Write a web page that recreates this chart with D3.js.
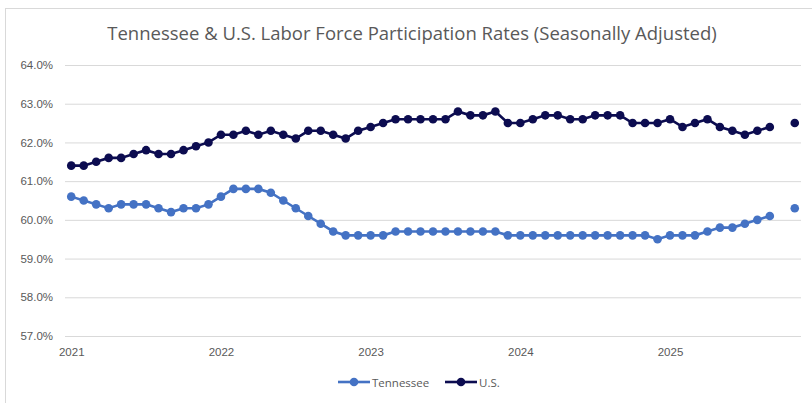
<!DOCTYPE html>
<html>
<head>
<meta charset="utf-8">
<script src="https://cdn.jsdelivr.net/npm/d3@7"></script>
<style>
  body { margin: 0; background: #fff; }
  svg { display: block; font-family: "Open Sans", sans-serif; }
</style>
</head>
<body>
<div id="chart"></div>
<script>
// monthly, Jan 2021 .. Nov 2025 (Oct 2025 not published)
var months = d3.timeMonth.range(new Date(2021, 0, 1), new Date(2025, 11, 1));

var tennessee = [
  60.6, 60.5, 60.4, 60.3, 60.4, 60.4, 60.4, 60.3, 60.2, 60.3, 60.3, 60.4,
  60.6, 60.8, 60.8, 60.8, 60.7, 60.5, 60.3, 60.1, 59.9, 59.7, 59.6, 59.6,
  59.6, 59.6, 59.7, 59.7, 59.7, 59.7, 59.7, 59.7, 59.7, 59.7, 59.7, 59.6,
  59.6, 59.6, 59.6, 59.6, 59.6, 59.6, 59.6, 59.6, 59.6, 59.6, 59.6, 59.5,
  59.6, 59.6, 59.6, 59.7, 59.8, 59.8, 59.9, 60.0, 60.1, null, 60.3
];

var us = [
  61.4, 61.4, 61.5, 61.6, 61.6, 61.7, 61.8, 61.7, 61.7, 61.8, 61.9, 62.0,
  62.2, 62.2, 62.3, 62.2, 62.3, 62.2, 62.1, 62.3, 62.3, 62.2, 62.1, 62.3,
  62.4, 62.5, 62.6, 62.6, 62.6, 62.6, 62.6, 62.8, 62.7, 62.7, 62.8, 62.5,
  62.5, 62.6, 62.7, 62.7, 62.6, 62.6, 62.7, 62.7, 62.7, 62.5, 62.5, 62.5,
  62.6, 62.4, 62.5, 62.6, 62.4, 62.3, 62.2, 62.3, 62.4, null, 62.5
];

var yTicks = [57, 58, 59, 60, 61, 62, 63, 64];
var yearTicks = ["2021", "2022", "2023", "2024", "2025"];

var series = [
  {name: "Tennessee", values: tennessee, color: "#4472c4"},
  {name: "U.S.", values: us, color: "#0c0c50"}
];

var width = 812, height = 403;
var margin = {top: 65, right: 11, bottom: 67, left: 65};

var svg = d3.select("#chart").append("svg")
    .attr("width", width)
    .attr("height", height);

// chart area border
svg.append("rect")
    .attr("x", 5.5).attr("y", 8.5)
    .attr("width", 830).attr("height", 420)
    .attr("fill", "none")
    .attr("stroke", "#d9d9d9");

svg.append("text")
    .attr("x", 412).attr("y", 40)
    .attr("text-anchor", "middle")
    .attr("fill", "#595959")
    .style("font-size", "18.5px")
    .text("Tennessee & U.S. Labor Force Participation Rates (Seasonally Adjusted)");

var fmt = d3.timeFormat("%Y-%m");
var x = d3.scalePoint()
    .domain(months.map(fmt))
    .range([margin.left, width - margin.right])
    .padding(0.5);

var y = d3.scaleLinear()
    .domain([57, 64])
    .range([height - margin.bottom, margin.top]);

// gridlines + y labels
var yAxis = d3.axisLeft(y)
    .tickValues(yTicks)
    .tickSize(-(width - margin.left - margin.right))
    .tickPadding(12)
    .tickFormat(function(d){ return d3.format(".1f")(d) + "%"; });

svg.append("g")
    .attr("transform", "translate(" + margin.left + ",0)")
    .call(yAxis)
    .call(function(g){
        g.select(".domain").remove();
        g.selectAll(".tick line").attr("stroke", "#d9d9d9");
        g.selectAll(".tick text").attr("fill", "#595959").style("font-size", "11.5px");
    });

// x labels at each January
var xAxis = d3.axisBottom(x)
    .tickValues(yearTicks.map(function(d){ return d + "-01"; }))
    .tickSize(0)
    .tickPadding(12)
    .tickFormat(function(d){ return d.slice(0, 4); });

svg.append("g")
    .attr("transform", "translate(0," + (height - margin.bottom) + ")")
    .call(xAxis)
    .call(function(g){
        g.select(".domain").remove();
        g.selectAll(".tick text").attr("fill", "#595959").style("font-size", "11.5px");
    });

var line = d3.line()
    .defined(function(d){ return d.v != null; })
    .x(function(d){ return x(d.m); })
    .y(function(d){ return y(d.v); });

series.forEach(function(s){
    var pts = months.map(function(m, i){ return {m: fmt(m), v: s.values[i]}; });
    svg.append("path")
        .datum(pts)
        .attr("fill", "none")
        .attr("stroke", s.color)
        .attr("stroke-width", 2.6)
        .attr("d", line);
    svg.selectAll(null)
        .data(pts.filter(function(d){ return d.v != null; }))
        .enter()
        .append("circle")
        .attr("cx", function(d){ return x(d.m); })
        .attr("cy", function(d){ return y(d.v); })
        .attr("r", 4.3)
        .attr("fill", s.color);
});

// legend
var legend = svg.append("g").attr("transform", "translate(338,382)");
var lx = [0, 107];
series.forEach(function(s, i){
    var g = legend.append("g").attr("transform", "translate(" + lx[i] + ",0)");
    g.append("line").attr("x1", 0).attr("x2", 32).attr("y1", 0).attr("y2", 0)
        .attr("stroke", s.color).attr("stroke-width", 2.6);
    g.append("circle").attr("cx", 16).attr("cy", 0).attr("r", 4.3).attr("fill", s.color);
    g.append("text").attr("x", 34).attr("y", 4.5)
        .attr("fill", "#595959").style("font-size", "11.5px")
        .text(s.name);
});
</script>
</body>
</html>
